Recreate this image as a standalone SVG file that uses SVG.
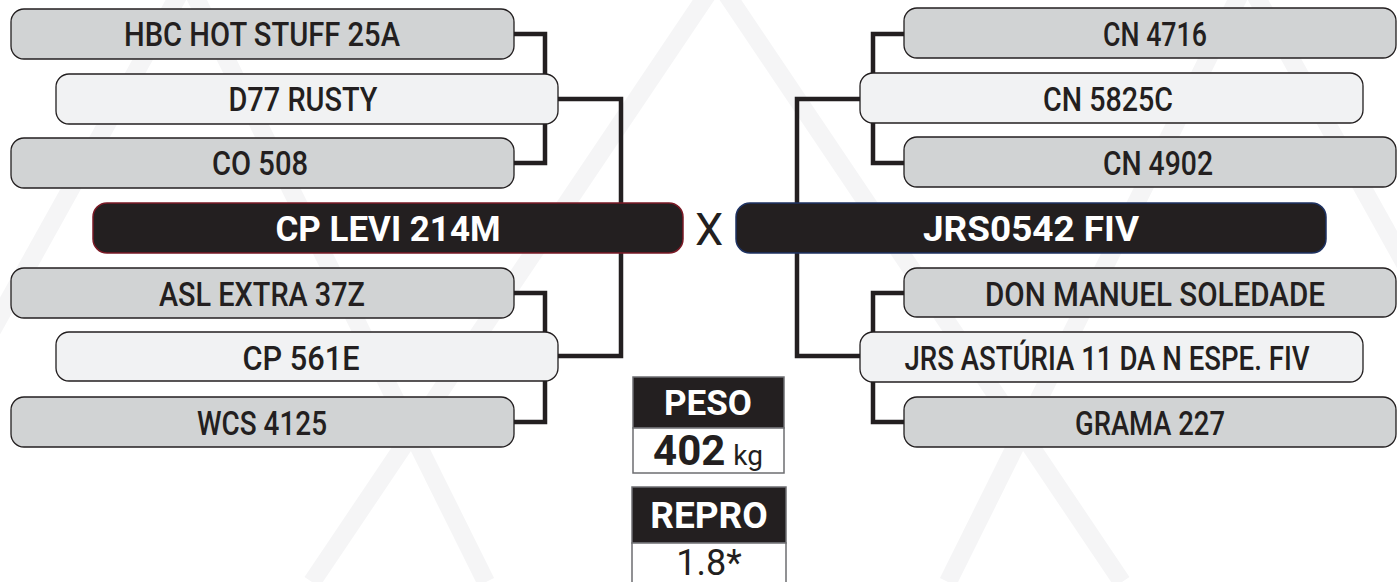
<svg xmlns="http://www.w3.org/2000/svg" width="1397" height="582" viewBox="0 0 1397 582">
<style>
.wm{stroke:#f5f5f6;stroke-width:18;fill:none}
.con{stroke:#231f20;stroke-width:4.5;fill:none}
.g{fill:#d1d3d4;stroke:#231f20;stroke-width:1.3}
.l{fill:#f1f2f3;stroke:#231f20;stroke-width:1.3}
.t{font-family:Roboto,"Liberation Sans",sans-serif;font-weight:500;font-size:33px;fill:#231f20;text-anchor:middle}
.m{font-family:Roboto,"Liberation Sans",sans-serif;font-weight:700;font-size:35px;fill:#ffffff;text-anchor:middle}
.hb{fill:#231f20;stroke:#6d6e71;stroke-width:1.5}
.vb{fill:#ffffff;stroke:#6d6e71;stroke-width:1.5}
</style>
<g id="watermark">
<line class="wm" x1="187" y1="-20" x2="-148" y2="582"/>
<line class="wm" x1="187" y1="-20" x2="486" y2="582"/>
<line class="wm" x1="717" y1="-20" x2="312" y2="582"/>
<line class="wm" x1="717" y1="-20" x2="1122" y2="582"/>
<line class="wm" x1="1247" y1="-20" x2="948" y2="582"/>
<line class="wm" x1="1247" y1="-20" x2="1582" y2="582"/>
</g>
<g id="connectors">
<path class="con" d="M514,34 H545 V163 H514"/>
<path class="con" d="M558,99 H621 V356 H558"/>
<path class="con" d="M514,293 H545 V422 H514"/>
<path class="con" d="M904,34 H873 V163 H904"/>
<path class="con" d="M860,99 H797 V356 H860"/>
<path class="con" d="M904,293 H873 V422 H904"/>
</g>
<g id="n-hbc"><rect class="g" x="11" y="9" width="503" height="50" rx="13"/><text class="t" x="262" y="46" textLength="276" lengthAdjust="spacingAndGlyphs">HBC HOT STUFF 25A</text></g>
<g id="n-d77"><rect class="l" x="56" y="74" width="502" height="50" rx="13"/><text class="t" x="303" y="111" textLength="149" lengthAdjust="spacingAndGlyphs">D77 RUSTY</text></g>
<g id="n-co508"><rect class="g" x="11" y="138" width="503" height="50" rx="13"/><text class="t" x="260" y="175" textLength="96" lengthAdjust="spacingAndGlyphs">CO 508</text></g>
<g id="n-asl"><rect class="g" x="11" y="268" width="503" height="50" rx="13"/><text class="t" x="262" y="306" textLength="206" lengthAdjust="spacingAndGlyphs">ASL EXTRA 37Z</text></g>
<g id="n-cp561e"><rect class="l" x="56" y="332" width="502" height="49" rx="13"/><text class="t" x="301" y="370" textLength="117" lengthAdjust="spacingAndGlyphs">CP 561E</text></g>
<g id="n-wcs"><rect class="g" x="11" y="397" width="503" height="50" rx="13"/><text class="t" x="262" y="435" textLength="130" lengthAdjust="spacingAndGlyphs">WCS 4125</text></g>
<g id="n-cn4716"><rect class="g" x="904" y="8" width="492" height="50" rx="13"/><text class="t" x="1155" y="46" textLength="104" lengthAdjust="spacingAndGlyphs">CN 4716</text></g>
<g id="n-cn5825c"><rect class="l" x="860" y="73" width="503" height="50" rx="13"/><text class="t" x="1108" y="111" textLength="130" lengthAdjust="spacingAndGlyphs">CN 5825C</text></g>
<g id="n-cn4902"><rect class="g" x="904" y="137" width="492" height="50" rx="13"/><text class="t" x="1158" y="175" textLength="110" lengthAdjust="spacingAndGlyphs">CN 4902</text></g>
<g id="n-don"><rect class="g" x="904" y="268" width="492" height="49" rx="13"/><text class="t" x="1155" y="306" textLength="340" lengthAdjust="spacingAndGlyphs">DON MANUEL SOLEDADE</text></g>
<g id="n-jrsast"><rect class="l" x="860" y="332" width="503" height="50" rx="13"/><text class="t" x="1107" y="370" textLength="405" lengthAdjust="spacingAndGlyphs">JRS ASTÚRIA 11 DA N ESPE. FIV</text></g>
<g id="n-grama"><rect class="g" x="904" y="397" width="492" height="50" rx="13"/><text class="t" x="1150" y="435" textLength="150" lengthAdjust="spacingAndGlyphs">GRAMA 227</text></g>
<g id="n-cplevi"><rect x="93" y="203" width="590" height="50" rx="14" fill="#231f20" stroke="#7a1a26" stroke-width="1.5"/><text class="m" x="388" y="241" textLength="225" lengthAdjust="spacingAndGlyphs">CP LEVI 214M</text></g>
<g id="x-label"><text x="709" y="245" font-family="Roboto,'Liberation Sans',sans-serif" font-size="45" fill="#231f20" text-anchor="middle">X</text></g>
<g id="n-jrs0542"><rect x="736" y="203" width="590" height="50" rx="14" fill="#231f20" stroke="#1e3262" stroke-width="1.5"/><text class="m" x="1031" y="241" textLength="216" lengthAdjust="spacingAndGlyphs">JRS0542 FIV</text></g>
<g id="peso">
<rect class="hb" x="633" y="377" width="151" height="51"/>
<rect class="vb" x="633" y="428" width="151" height="45"/>
<text x="708" y="415" font-family="Roboto,'Liberation Sans',sans-serif" font-weight="700" font-size="35" fill="#ffffff" text-anchor="middle">PESO</text>
<text x="708" y="465" font-family="Roboto,'Liberation Sans',sans-serif" fill="#231f20" text-anchor="middle"><tspan font-weight="700" font-size="42">402</tspan><tspan font-size="28" dx="8">kg</tspan></text>
</g>
<g id="repro">
<rect class="hb" x="632" y="487" width="154" height="56"/>
<rect class="vb" x="632" y="543" width="154" height="45"/>
<text x="709" y="528" font-family="Roboto,'Liberation Sans',sans-serif" font-weight="700" font-size="37" fill="#ffffff" text-anchor="middle">REPRO</text>
<text x="709" y="575" font-family="Roboto,'Liberation Sans',sans-serif" font-size="36" fill="#231f20" text-anchor="middle">1.8*</text>
</g>
</svg>
